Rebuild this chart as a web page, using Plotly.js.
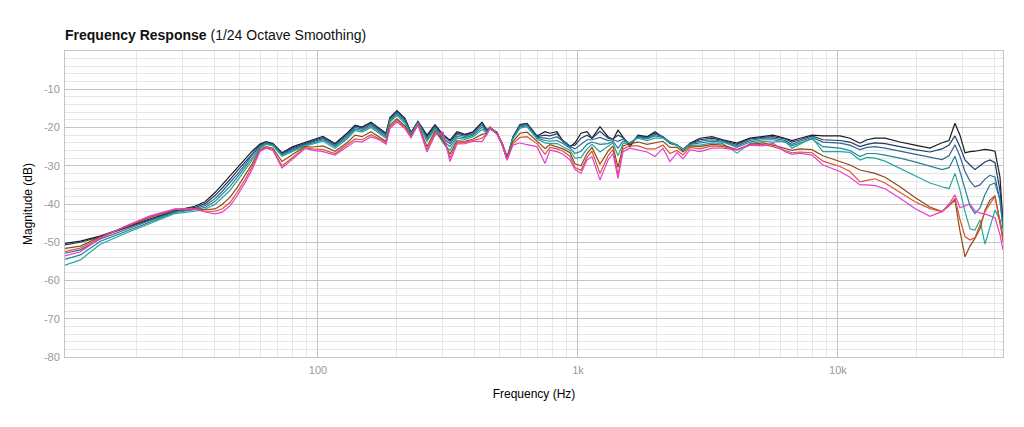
<!DOCTYPE html>
<html>
<head>
<meta charset="utf-8">
<script src="https://cdn.plot.ly/plotly-3.0.1.min.js"></script>
<style>
  html, body { margin: 0; padding: 0; background: #fff; }
  #chart { width: 1024px; height: 427px; }
</style>
</head>
<body>
<div id="chart"></div>
<script>
// frequency points (Hz), shared by every measurement
const freqs = [10.6, 12.2, 14.5, 18.1, 22.6, 28.2, 33.6, 36.8, 40.2, 42.7,
  45.9, 48.8, 52.4, 55.8, 59.8, 63.1, 67.1, 72.7, 80.1, 89.1,
  95.7, 104.5, 116.3, 129.3, 138.8, 147.6, 159.9, 173.2, 182.6, 189.2,
  201.3, 216.1, 227.9, 242.4, 262.6, 281.8, 302.6, 321.9, 342.4, 367.6,
  394.7, 427.4, 446.7, 458.7, 488.2, 510.3, 533.4, 562.3, 598.4, 636.6,
  695.7, 746.7, 780.4, 830.3, 875.6, 931.6, 973.9, 1027, 1083, 1132,
  1215, 1305, 1363, 1425, 1490, 1585, 1701, 1843, 1978, 2123,
  2258, 2403, 2534, 2697, 2946, 3276, 3612, 4088, 4586, 5146,
  5623, 6256, 6654, 7143, 7943, 8756, 10180, 11120, 12150, 12930,
  13880, 15170, 17320, 19780, 22580, 25120, 26730, 28180, 29450, 30800,
  32190, 33640, 35170, 36760, 38420, 40160, 41990, 43120];

// magnitude (dB) per measurement
const black = [-50.3, -49.7, -48.4, -46.2, -43.8, -41.7, -40.6, -39.4, -37.0, -35.0,
  -32.8, -30.6, -28.3, -26.2, -24.3, -23.7, -24.2, -26.6, -25.0, -24.0,
  -23.2, -22.3, -24.2, -21.5, -19.4, -19.9, -18.6, -20.4, -21.5, -17.4,
  -15.6, -17.6, -21.3, -18.4, -22.0, -19.3, -21.8, -23.3, -21.1, -21.8,
  -21.1, -18.6, -20.6, -20.0, -21.3, -24.4, -28.3, -22.4, -19.2, -18.9,
  -22.2, -21.1, -21.5, -21.1, -23.7, -25.0, -24.0, -21.5, -21.1, -22.8,
  -19.8, -22.4, -23.2, -20.7, -22.6, -25.0, -22.0, -22.4, -21.1, -22.6,
  -24.2, -24.6, -25.9, -24.1, -22.8, -22.4, -23.2, -24.1, -22.8, -22.4,
  -22.0, -22.8, -23.4, -22.8, -22.0, -22.2, -22.2, -22.8, -24.1, -23.2,
  -22.8, -22.8, -23.8, -24.6, -25.4, -24.0, -23.4, -18.9, -22.0, -26.6,
  -26.3, -26.2, -25.9, -25.7, -25.9, -26.2, -33.0, -45.0];
const navy = [-50.7, -50.0, -48.6, -46.4, -44.0, -41.8, -40.9, -39.9, -37.8, -35.9,
  -33.6, -31.4, -29.0, -26.7, -24.6, -23.8, -24.3, -26.8, -25.3, -24.2,
  -23.4, -22.6, -24.4, -21.8, -19.6, -20.1, -18.8, -20.6, -21.7, -17.6,
  -15.8, -17.8, -21.4, -18.5, -22.4, -19.5, -22.2, -23.6, -21.4, -22.0,
  -21.3, -18.8, -20.8, -20.1, -21.4, -24.3, -28.2, -22.5, -19.4, -19.0,
  -22.4, -22.0, -22.2, -21.6, -23.4, -24.8, -24.6, -22.8, -22.0, -22.8,
  -21.0, -22.8, -23.0, -22.0, -22.6, -24.6, -22.2, -22.6, -21.4, -22.4,
  -24.0, -24.6, -25.8, -24.2, -23.2, -22.8, -23.4, -24.4, -23.0, -22.6,
  -22.4, -23.0, -23.8, -23.2, -22.2, -23.2, -23.4, -23.8, -25.0, -24.4,
  -24.0, -24.2, -25.0, -25.8, -26.4, -25.6, -24.6, -22.2, -25.0, -28.5,
  -29.8, -31.0, -30.0, -29.0, -28.5, -29.2, -36.5, -44.5];
const steel = [-52.9, -52.0, -49.2, -46.7, -44.3, -42.0, -41.2, -40.4, -38.6, -36.8,
  -34.5, -32.3, -29.7, -27.2, -24.9, -24.0, -24.5, -27.0, -25.6, -24.4,
  -23.7, -22.9, -24.7, -22.2, -20.0, -20.4, -19.2, -20.9, -22.0, -17.9,
  -16.1, -18.1, -21.6, -18.6, -22.8, -19.8, -22.8, -24.2, -21.8, -22.3,
  -21.6, -19.3, -21.0, -20.2, -21.5, -24.2, -28.0, -22.6, -19.6, -19.2,
  -22.6, -22.8, -23.0, -22.4, -23.6, -25.0, -25.6, -24.4, -23.2, -23.2,
  -22.6, -23.4, -23.2, -23.6, -23.0, -24.2, -22.4, -22.8, -21.8, -22.4,
  -23.8, -24.6, -25.6, -24.3, -23.6, -23.2, -23.6, -24.8, -23.4, -22.8,
  -22.8, -23.4, -24.4, -23.6, -22.6, -23.8, -24.1, -24.6, -25.8, -25.2,
  -25.0, -25.4, -26.2, -27.0, -27.8, -28.4, -27.4, -24.5, -27.5, -31.5,
  -34.0, -35.5, -35.0, -33.5, -32.5, -33.0, -39.0, -46.5];
const deepTeal = [-54.5, -53.3, -49.8, -47.2, -44.7, -42.2, -41.5, -40.9, -39.3, -37.6,
  -35.4, -33.1, -30.4, -27.8, -25.3, -24.2, -24.6, -27.2, -25.9, -24.6,
  -24.0, -23.2, -25.0, -22.6, -20.4, -20.8, -19.6, -21.2, -22.4, -18.2,
  -16.5, -18.5, -21.8, -18.7, -23.2, -20.1, -23.4, -25.0, -22.3, -22.7,
  -22.0, -19.9, -21.3, -20.3, -21.6, -24.1, -27.8, -22.8, -19.9, -19.5,
  -22.8, -23.4, -23.6, -23.4, -24.2, -25.4, -26.8, -26.2, -24.4, -23.8,
  -24.4, -24.2, -23.6, -25.4, -23.6, -24.0, -22.6, -23.0, -22.2, -22.6,
  -23.8, -24.6, -25.6, -24.4, -24.0, -23.6, -23.8, -25.2, -23.8, -23.2,
  -23.2, -23.8, -24.8, -24.0, -23.0, -25.0, -25.4, -26.0, -27.6, -26.8,
  -26.8, -27.2, -28.0, -29.0, -30.0, -31.0, -30.5, -27.5, -31.5, -36.0,
  -40.5, -42.5, -41.0, -37.5, -35.0, -34.5, -39.0, -46.0];
const teal = [-56.0, -54.6, -50.6, -47.7, -45.1, -42.5, -41.9, -41.3, -40.1, -38.5,
  -36.4, -34.0, -31.1, -28.4, -25.7, -24.4, -24.8, -27.5, -26.2, -24.8,
  -24.3, -23.6, -25.4, -23.0, -20.8, -21.2, -20.0, -21.6, -22.8, -18.6,
  -16.9, -18.9, -22.0, -18.8, -23.6, -20.5, -24.0, -26.0, -22.8, -23.1,
  -22.4, -20.5, -21.6, -20.4, -21.7, -24.0, -27.6, -23.0, -20.2, -19.8,
  -23.0, -24.0, -24.2, -24.2, -25.0, -26.0, -28.0, -27.8, -25.6, -24.4,
  -26.4, -25.0, -24.0, -27.4, -24.2, -23.9, -22.8, -23.4, -22.8, -22.8,
  -24.0, -24.6, -25.8, -24.6, -24.6, -24.0, -24.2, -26.7, -24.2, -23.6,
  -23.8, -23.6, -25.4, -24.4, -22.6, -26.3, -26.3, -26.5, -28.5, -27.8,
  -28.0, -28.8, -30.7, -32.6, -34.5, -35.5, -36.0, -32.0, -36.3, -42.0,
  -46.5, -46.8, -44.2, -50.5, -46.0, -41.6, -44.2, -48.0];
const brown = [-51.6, -51.0, -48.6, -46.0, -43.5, -41.5, -41.2, -41.5, -41.3, -40.2,
  -38.2, -35.8, -32.6, -29.5, -25.9, -25.0, -25.4, -28.9, -27.0, -25.0,
  -25.1, -24.8, -26.2, -24.0, -22.0, -22.4, -21.1, -22.6, -23.6, -19.3,
  -17.7, -19.6, -22.3, -19.0, -25.0, -21.0, -23.5, -27.0, -23.5, -23.6,
  -23.0, -21.8, -21.5, -19.9, -21.6, -24.0, -27.8, -23.6, -21.5, -21.2,
  -23.5, -25.5, -24.5, -25.0, -25.6, -26.6, -29.5, -30.0, -26.8, -25.2,
  -29.6, -26.2, -24.8, -30.4, -24.8, -24.2, -23.8, -24.4, -24.0, -23.6,
  -25.2, -25.2, -26.4, -24.8, -25.0, -24.4, -24.6, -25.8, -24.4, -24.0,
  -24.6, -25.6, -26.0, -25.6, -25.8, -27.4, -28.9, -29.8, -31.1, -31.5,
  -32.0, -33.0, -35.5, -38.3, -40.8, -42.0, -40.5, -39.0, -47.0, -53.8,
  -51.0, -49.0, -46.5, -41.6, -39.0, -37.8, -45.0, -49.0];
const orange = [-52.5, -51.5, -48.9, -45.9, -43.3, -41.4, -41.3, -41.9, -41.9, -41.3,
  -39.6, -37.0, -33.6, -30.3, -26.0, -25.2, -25.8, -30.0, -27.8, -25.3,
  -25.6, -25.8, -26.8, -24.6, -23.0, -23.2, -21.9, -23.0, -24.0, -19.8,
  -18.2, -20.0, -22.5, -19.1, -25.8, -21.5, -21.8, -28.0, -24.0, -23.9,
  -23.4, -22.8, -21.6, -19.8, -21.6, -24.2, -28.2, -24.2, -22.6, -22.4,
  -24.2, -27.0, -25.2, -25.6, -26.2, -27.5, -30.5, -31.2, -27.8, -26.2,
  -32.0, -27.4, -25.8, -32.4, -25.6, -24.8, -24.8, -25.6, -25.6, -24.6,
  -26.8, -26.0, -27.2, -25.2, -25.6, -24.8, -25.0, -25.8, -24.6, -24.4,
  -25.0, -26.0, -26.6, -26.4, -26.6, -28.8, -30.2, -31.5, -34.2, -33.8,
  -33.4, -34.5, -37.0, -39.4, -41.2, -42.0, -40.5, -38.5, -44.0, -48.5,
  -49.4, -48.8, -45.5, -42.0, -40.0, -38.0, -44.5, -50.0];
const magenta = [-53.6, -52.5, -49.0, -45.8, -43.1, -41.3, -41.3, -42.1, -42.6, -42.2,
  -40.5, -37.9, -34.4, -31.0, -26.3, -25.4, -26.0, -30.6, -28.2, -25.5,
  -26.0, -26.3, -27.2, -25.0, -23.6, -23.8, -22.4, -23.3, -24.4, -20.2,
  -18.6, -20.3, -22.7, -19.3, -26.4, -22.0, -21.2, -28.9, -24.3, -24.2,
  -23.6, -23.7, -21.8, -20.0, -21.8, -24.5, -28.6, -24.6, -24.0, -24.5,
  -25.0, -29.4, -25.9, -26.3, -27.0, -28.5, -31.0, -32.0, -28.5, -27.6,
  -33.7, -28.5, -26.8, -33.3, -26.3, -25.4, -25.9, -26.4, -27.6, -25.4,
  -28.9, -26.6, -28.2, -25.8, -26.3, -25.4, -25.4, -25.9, -24.6, -24.8,
  -24.1, -26.3, -27.0, -26.7, -27.2, -29.8, -31.5, -33.0, -35.0, -35.0,
  -35.2, -36.0, -38.5, -41.2, -43.2, -42.0, -40.0, -37.6, -41.0, -40.5,
  -40.0, -41.8, -42.4, -42.6, -43.0, -43.6, -48.0, -52.0];

const yTicks = [-80, -70, -60, -50, -40, -30, -20, -10];
const yTickText = ["-80", "-70", "-60", "-50", "-40", "-30", "-20", "-10"];
const xTicks = [100, 1000, 10000];
const xTickText = ["100", "1k", "10k"];

const FONT = "Helvetica Neue, Liberation Sans, Arial, sans-serif";

const makeTrace = (y, color) => {
    return {
        x: freqs,
        y: y,
        type: "scatter",
        mode: "lines",
        line: {color: color, width: 1.2},
        hoverinfo: "skip"
    };
};

const traces = [
    makeTrace(black, "#1b1b1b"),
    makeTrace(navy, "#1f3d66"),
    makeTrace(steel, "#2f6490"),
    makeTrace(deepTeal, "#25809c"),
    makeTrace(teal, "#23a89e"),
    makeTrace(brown, "#8e4a1c"),
    makeTrace(orange, "#d9552a"),
    makeTrace(magenta, "#e83cd4")
];

// minor grid at 2..9 of each decade
let minorX = [];
for (let d of [10, 100, 1000, 10000]) {
    for (let k = 2; k <= 9; k++) {
        minorX.push(k * d);
    }
}

const layout = {
    width: 1024,
    height: 427,
    margin: {l: 65, r: 21, t: 51, b: 70},
    paper_bgcolor: "#fff",
    plot_bgcolor: "#fff",
    showlegend: false,
    font: {family: FONT, size: 11, color: "#000"},
    title: {
        text: "<b>Frequency Response</b> (1/24 Octave Smoothing)",
        font: {family: FONT, size: 14, color: "#111"},
        xref: "container", yref: "container",
        x: 65 / 1024, xanchor: "left",
        y: 1 - 35 / 427, yanchor: "middle"
    },
    xaxis: {
        type: "log",
        range: [Math.log10(10.64), Math.log10(43120)],
        tickmode: "array",
        tickvals: xTicks,
        ticktext: xTickText,
        tickfont: {color: "#9a9a9a", size: 11},
        ticklabelstandoff: 3,
        showgrid: true,
        gridcolor: "#c4c4c4",
        gridwidth: 1,
        minor: {tickmode: "array", tickvals: minorX, showgrid: true, gridcolor: "#e6e6e6", gridwidth: 1},
        showline: true, mirror: true, linecolor: "#c4c4c4", linewidth: 1,
        zeroline: false,
        title: {text: "Frequency (Hz)", font: {size: 12, color: "#000"}, standoff: 14}
    },
    yaxis: {
        range: [-80, 0],
        tickmode: "array",
        tickvals: yTicks,
        ticktext: yTickText,
        tickfont: {color: "#9a9a9a", size: 11},
        ticklabelstandoff: 2,
        showgrid: true,
        gridcolor: "#c4c4c4",
        gridwidth: 1,
        minor: {dtick: 2, tick0: 0, showgrid: true, gridcolor: "#e6e6e6", gridwidth: 1},
        showline: true, mirror: true, linecolor: "#c4c4c4", linewidth: 1,
        zeroline: false,
        title: {text: "Magnitude (dB)", font: {size: 12, color: "#000"}, standoff: 8}
    }
};

const plotConfig = {responsive: false, displayModeBar: false, staticPlot: true};
Plotly.newPlot("chart", traces, layout, plotConfig);
</script>
</body>
</html>
